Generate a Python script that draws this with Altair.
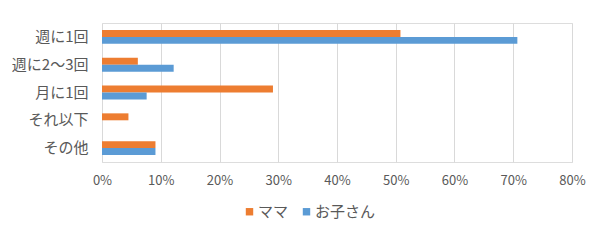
import altair as alt
import pandas as pd

categories = ["週に1回", "週に2〜3回", "月に1回", "それ以下", "その他"]
series_names = ["ママ", "お子さん"]
mama = [0.508, 0.061, 0.291, 0.045, 0.091]
kids = [0.707, 0.122, 0.076, 0.0, 0.091]
colors = ["#ED7D31", "#5B9BD5"]
x_ticks = [0, 0.1, 0.2, 0.3, 0.4, 0.5, 0.6, 0.7, 0.8]

rows = []
for c, m, k in zip(categories, mama, kids):
    rows.append({"cat": c, "series": series_names[0], "value": m})
    rows.append({"cat": c, "series": series_names[1], "value": k})
df = pd.DataFrame(rows)

FONT = "Noto Sans CJK JP"
GRAY = "#595959"

chart = alt.Chart(df).mark_bar().encode(
    y=alt.Y("cat:N", sort=categories, title=None,
            scale=alt.Scale(paddingInner=0.5, paddingOuter=0.25),
            axis=alt.Axis(domain=False, ticks=False, labelFontSize=15,
                          labelColor=GRAY, labelFont=FONT, labelPadding=14)),
    yOffset=alt.YOffset("series:N", sort=series_names),
    x=alt.X("value:Q", title=None,
            scale=alt.Scale(domain=[0, 0.8], nice=False),
            axis=alt.Axis(format=".0%", values=x_ticks, domain=False, ticks=False,
                          grid=True, gridColor="#D9D9D9", gridWidth=1,
                          labelFontSize=13, labelColor=GRAY, labelFont=FONT,
                          labelPadding=12, labelFlush=False)),
    color=alt.Color("series:N", sort=series_names,
                    scale=alt.Scale(domain=series_names, range=colors),
                    legend=alt.Legend(title=None, orient="none", direction="horizontal",
                                      legendX=140, legendY=181,
                                      symbolType="square", symbolSize=55,
                                      symbolStrokeWidth=0,
                                      labelFontSize=15, labelColor=GRAY, labelFont=FONT,
                                      labelOffset=1, columnPadding=10)),
).properties(
    width=470, height=139,
    autosize=alt.AutoSizeParams(type="none"),
    padding={"left": 102, "top": 23, "right": 28, "bottom": 79},
).configure_view(stroke=None).configure(background="white")

chart.save("out.html", embed_options={"renderer": "svg", "actions": False})
